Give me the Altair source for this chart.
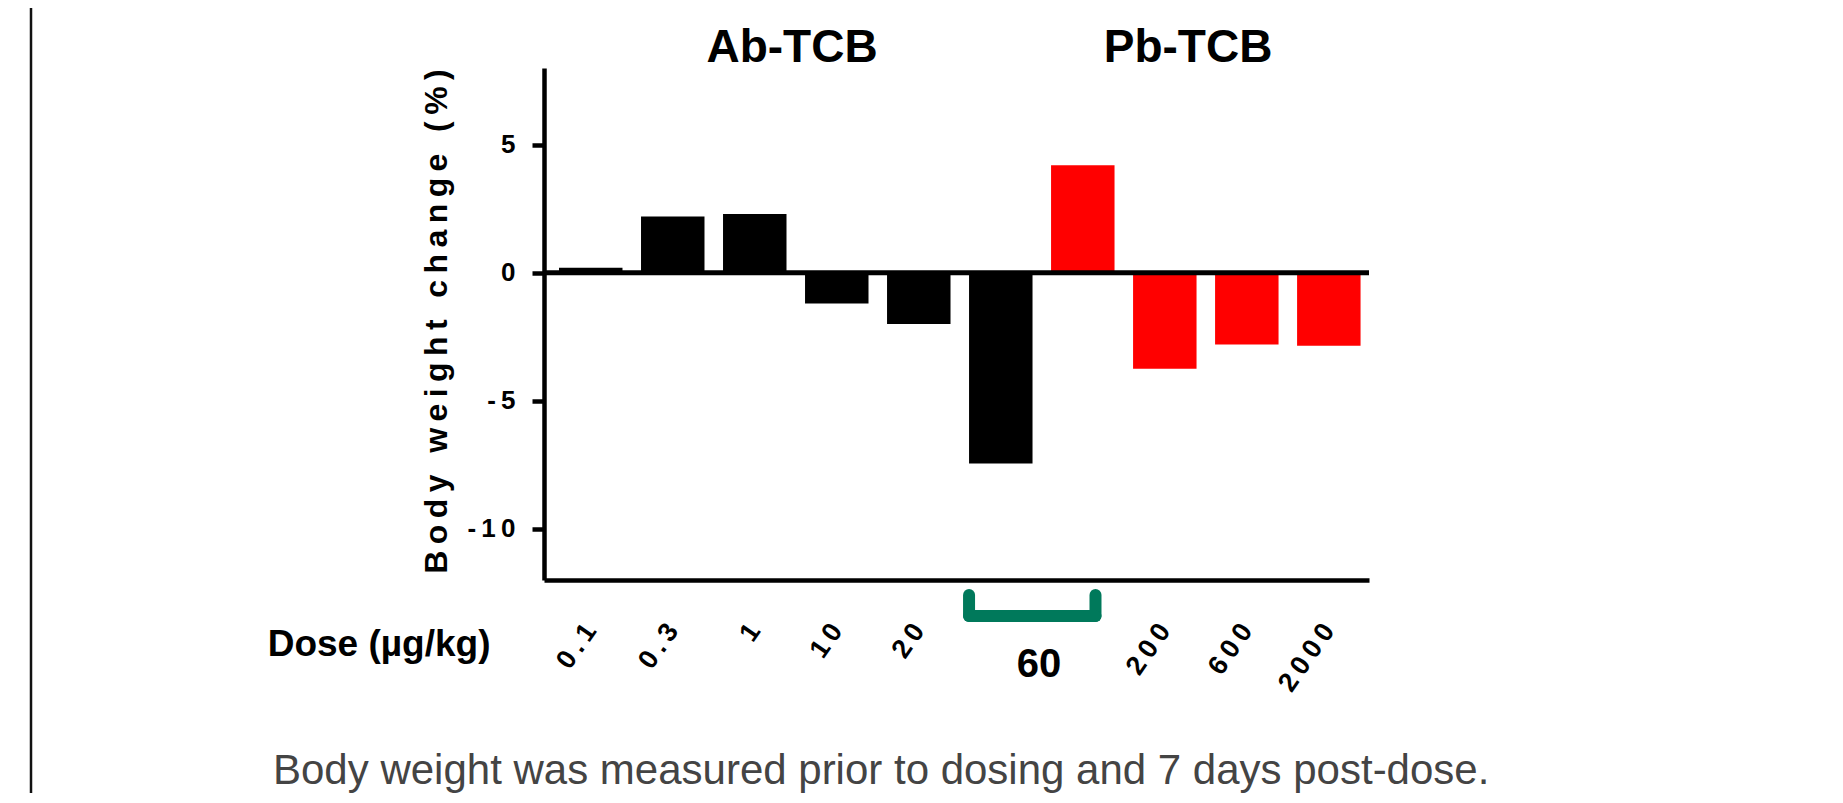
import altair as alt
import pandas as pd

# ---- data ----
groups = ["Ab-TCB"] * 6 + ["Pb-TCB"] * 4
doses = ["0.1", "0.3", "1", "10", "20", "60", "60", "200", "600", "2000"]
change = [0.2, 2.2, 2.3, -1.2, -2.0, -7.45, 4.2, -3.75, -2.8, -2.85]
group_names = ["Ab-TCB", "Pb-TCB"]
group_colors = ["#000000", "#ff0000"]
y_ticks = [-10, -5, 0, 5]
y_title = "Body weight change (%)"
x_title = "Dose (\u00b5g/kg)"
bracket_dose = "60"
caption = "Body weight was measured prior to dosing and 7 days post-dose."

FONT = "Liberation Sans, Arial, Helvetica, sans-serif"
GREEN = "#00795b"
SP = "\u2009"   # letter spacing filler (thin space)
W, H = 825, 512

keys = [f"{g}|{d}" for g, d in zip(groups, doses)]
df = pd.DataFrame({"key": keys, "group": groups, "dose": doses, "change": change})

x_scale = alt.Scale(domain=keys, paddingInner=0.226, paddingOuter=0.143, align=0.64)
y_scale = alt.Scale(domain=[-12, 8], nice=False, zero=False)

x_axis = alt.Axis(
    title=x_title, titleFont=FONT, titleFontSize=37, titleFontWeight="bold",
    titleColor="black", titleAngle=0, titleAlign="right", titleBaseline="alphabetic",
    titleX=-54, titleY=75,
    labelExpr=(f"split(datum.value,'|')[1] == '{bracket_dose}' ? '' : "
               f"join(split(split(datum.value,'|')[1], ''), '{SP}')"),
    labelAngle=305, labelAlign="right", labelBaseline="middle", labelPadding=46,
    labelFont=FONT, labelFontSize=27, labelFontWeight="bold", labelColor="black",
    labelOverlap=False, ticks=False, domainColor="black", domainWidth=4.5, grid=False,
)

y_axis = alt.Axis(
    values=y_ticks, title=SP.join(y_title), titleFont=FONT, titleFontSize=32,
    titleFontWeight="bold", titleColor="black", titleAngle=270, titleAlign="center",
    titleBaseline="alphabetic", titleX=-98, titleY=H / 2 - 3,
    labelExpr=f"join(split(toString(datum.value), ''), '{SP}')",
    labelFont=FONT, labelFontSize=26, labelFontWeight="bold", labelColor="black",
    labelPadding=17, tickSize=12, tickWidth=4.5, tickColor="black",
    domainColor="black", domainWidth=4.5, grid=False, labelOverlap=False,
)


def xenc(field, bp=None):
    if bp is None:
        return alt.X(field + ":N", scale=x_scale, axis=x_axis, sort=keys)
    return alt.X(field + ":N", scale=x_scale, axis=x_axis, sort=keys, bandPosition=bp)


bars = alt.Chart(df).mark_bar().encode(
    x=xenc("key"),
    y=alt.Y("change:Q", scale=y_scale, axis=y_axis),
    color=alt.Color("group:N", scale=alt.Scale(domain=group_names, range=group_colors), legend=None),
)

zero = alt.Chart(pd.DataFrame({"change": [0]})).mark_rule(color="black", strokeWidth=5).encode(
    y=alt.Y("change:Q", scale=y_scale, axis=y_axis)
)

bdf = pd.DataFrame({"key": [keys[5]], "end": [keys[6]]})
b_left = alt.Chart(bdf).mark_rule(color=GREEN, strokeWidth=12, strokeCap="round").encode(
    x=xenc("key", 0), y=alt.value(527), y2=alt.value(548),
)
b_right = alt.Chart(bdf).mark_rule(color=GREEN, strokeWidth=12, strokeCap="round").encode(
    x=xenc("end", 0.7), y=alt.value(527), y2=alt.value(548),
)
b_bottom = alt.Chart(bdf).mark_rule(color=GREEN, strokeWidth=12, strokeCap="round").encode(
    x=xenc("key", 0), x2=alt.X2("end", bandPosition=0.7), y=alt.value(548),
)

sixty = alt.Chart(pd.DataFrame({"key": [keys[6]], "label": [bracket_dose]})).mark_text(
    font=FONT, fontSize=40, fontWeight="bold", color="black", align="center",
    baseline="alphabetic", dx=-12,
).encode(x=xenc("key", 0), y=alt.value(609), text="label:N")

gt_ab = alt.Chart(pd.DataFrame({"key": [keys[3]], "label": [group_names[0]]})).mark_text(
    font=FONT, fontSize=46, fontWeight="bold", color="black", align="center",
    baseline="alphabetic", dx=-13,
).encode(x=xenc("key", 0), y=alt.value(-6), text="label:N")

gt_pb = alt.Chart(pd.DataFrame({"key": [keys[8]], "label": [group_names[1]]})).mark_text(
    font=FONT, fontSize=46, fontWeight="bold", color="black", align="center",
    baseline="alphabetic", dx=-27,
).encode(x=xenc("key", 0), y=alt.value(-6), text="label:N")

cap = alt.Chart(pd.DataFrame({"t": [caption]})).mark_text(
    font=FONT, fontSize=42, color="#444444", align="left", baseline="alphabetic",
).encode(x=alt.value(-271), y=alt.value(716), text="t:N")

border = alt.Chart(pd.DataFrame({"a": [0]})).mark_rule(color="#111111", strokeWidth=2.5).encode(
    x=alt.value(-513), y=alt.value(-60), y2=alt.value(727)
)

chart = alt.layer(
    bars, zero, b_left, b_right, b_bottom, sixty, gt_ab, gt_pb, cap, border
).properties(
    width=W, height=H,
    padding={"left": 536, "top": 60, "right": 466, "bottom": 213},
    autosize=alt.AutoSizeParams(type="none"),
).configure_view(stroke="transparent")

chart.save("out.html", embed_options={"renderer": "svg", "actions": False})
